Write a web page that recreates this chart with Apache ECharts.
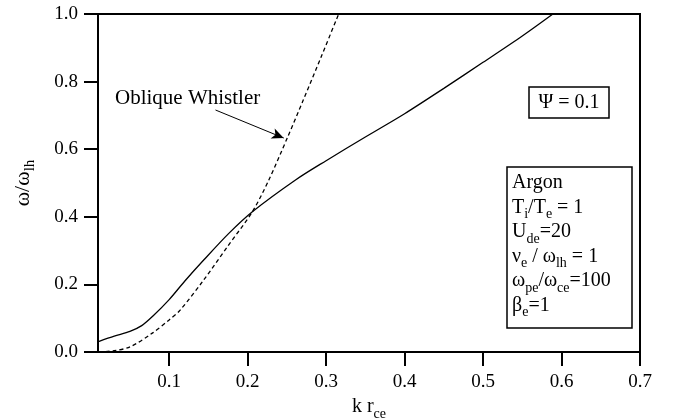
<!DOCTYPE html>
<html><head><meta charset="utf-8">
<script src="https://cdn.jsdelivr.net/npm/echarts@6/dist/echarts.min.js"></script>
<style>html,body{margin:0;padding:0;background:#fff}#c{width:673px;height:420px}</style>
</head><body><div id="c"></div>
<script>
// ---- data ----
var xTicks = [0.1, 0.2, 0.3, 0.4, 0.5, 0.6, 0.7];
var yTicks = [0.0, 0.2, 0.4, 0.6, 0.8, 1.0];
var solidK = [0.01, 0.03, 0.05, 0.065, 0.08, 0.10, 0.12, 0.144, 0.176, 0.206, 0.261, 0.30, 0.35, 0.40, 0.45, 0.50, 0.55, 0.589];
var solidW = [0.031, 0.047, 0.061, 0.078, 0.108, 0.155, 0.21, 0.272, 0.351, 0.415, 0.509, 0.566, 0.636, 0.705, 0.78, 0.857, 0.935, 1.0];
var dashK = [0.01, 0.03, 0.05, 0.078, 0.10, 0.114, 0.144, 0.174, 0.206, 0.227, 0.251, 0.271, 0.294, 0.316];
var dashW = [0.0, 0.004, 0.015, 0.055, 0.095, 0.124, 0.213, 0.311, 0.415, 0.509, 0.636, 0.746, 0.875, 1.0];
var arrowFrom = [0.159, 0.716];
var arrowTo = [0.246, 0.633];
var labelOblique = 'Oblique Whistler';
var psiText = 'Ψ = 0.1';
var paramLines = [
  '{t|Argon}',
  '{t|T}{s|i}{t|/T}{s|e}{t| = 1}',
  '{t|U}{s|de}{t|=20}',
  '{t|ν}{s|e}{t| / ω}{s|lh}{t| = 1}',
  '{t|ω}{s|pe}{t|/ω}{s|ce}{t|=100}',
  '{t|β}{s|e}{t|=1}'
];

function zip(a, b) { return a.map(function (v, i) { return [v, b[i]]; }); }

var FONT = '"Liberation Serif","Times New Roman",serif';
function mkRich(big, small, drop) {
  return {
    t: { fontFamily: FONT, fontSize: big, color: '#000', verticalAlign: 'top', lineHeight: big + 4 },
    s: { fontFamily: FONT, fontSize: small, color: '#000', verticalAlign: 'top', lineHeight: small, padding: [drop, 0, 0, 0] }
  };
}
var rich = mkRich(20, 14, 10);
var richY = mkRich(22, 15, 11);

var chart = echarts.init(document.getElementById('c'), null, { renderer: 'canvas' });

var graphics = [];
// parameter box
graphics.push({ type: 'rect', shape: { x: 507, y: 167, width: 125, height: 161 },
  style: { fill: '#fff', stroke: '#000', lineWidth: 1.5 }, z: 100 });
paramLines.forEach(function (ln, i) {
  graphics.push({ type: 'text', x: 512, y: 173 + i * 24.5, z: 101,
    style: { text: ln, rich: rich, fill: '#000' } });
});
// psi box
graphics.push({ type: 'rect', shape: { x: 529, y: 87, width: 80, height: 31 },
  style: { fill: '#fff', stroke: '#000', lineWidth: 1.5 }, z: 100 });
graphics.push({ type: 'text', x: 569, y: 103, z: 101,
  style: { text: psiText, font: '20px ' + FONT, fill: '#000', textAlign: 'center', textVerticalAlign: 'middle' } });
// Oblique whistler label
graphics.push({ type: 'text', x: 115, y: 98, z: 101,
  style: { text: labelOblique, font: '21px ' + FONT, fill: '#000', textAlign: 'left', textVerticalAlign: 'middle' } });

chart.setOption({
  animation: false,
  backgroundColor: '#fff',
  grid: { left: 98, right: 33, top: 14, bottom: 68, containLabel: false, outerBoundsMode: 'none',
    show: true, borderColor: '#000', borderWidth: 2, backgroundColor: 'transparent' },
  xAxis: {
    type: 'value', min: 0.0093, max: 0.7,
    name: '{t|k r}{s|ce}', nameLocation: 'middle', nameGap: 41,
    nameTextStyle: { rich: rich },
    axisLine: { show: true, lineStyle: { color: '#000', width: 2 } },
    axisTick: { show: true, inside: false, length: 14, lineStyle: { color: '#000', width: 2 }, customValues: xTicks },
    axisLabel: { show: true, color: '#000', fontFamily: FONT, fontSize: 19, margin: 21, customValues: xTicks,
      formatter: function (v) { return v.toFixed(1); } },
    splitLine: { show: false }
  },
  yAxis: {
    type: 'value', min: 0, max: 1, interval: 0.2,
    name: '{t|ω/ω}{s|lh}', nameLocation: 'middle', nameGap: 60, nameRotate: 90,
    nameTextStyle: { rich: richY },
    axisLine: { show: true, lineStyle: { color: '#000', width: 2 } },
    axisTick: { show: true, inside: false, length: 14, lineStyle: { color: '#000', width: 2 } },
    axisLabel: { show: true, color: '#000', fontFamily: FONT, fontSize: 19, margin: 20,
      formatter: function (v) { return v.toFixed(1); } },
    splitLine: { show: false }
  },
  series: [
    { type: 'line', data: zip(solidK, solidW), smooth: 0.3, showSymbol: false, clip: true,
      lineStyle: { color: '#000', width: 1.3, type: 'solid' } },
    { type: 'line', data: zip(dashK, dashW), smooth: 0.3, showSymbol: false, clip: true,
      lineStyle: { color: '#000', width: 1.3, type: [4, 3] },
      markLine: { silent: true, symbol: ['none', 'arrow'], symbolSize: [8, 12],
        label: { show: false },
        lineStyle: { color: '#000', width: 1, type: 'solid' },
        data: [[{ coord: arrowFrom }, { coord: arrowTo }]] } }
  ],
  graphic: graphics
});
</script></body></html>
